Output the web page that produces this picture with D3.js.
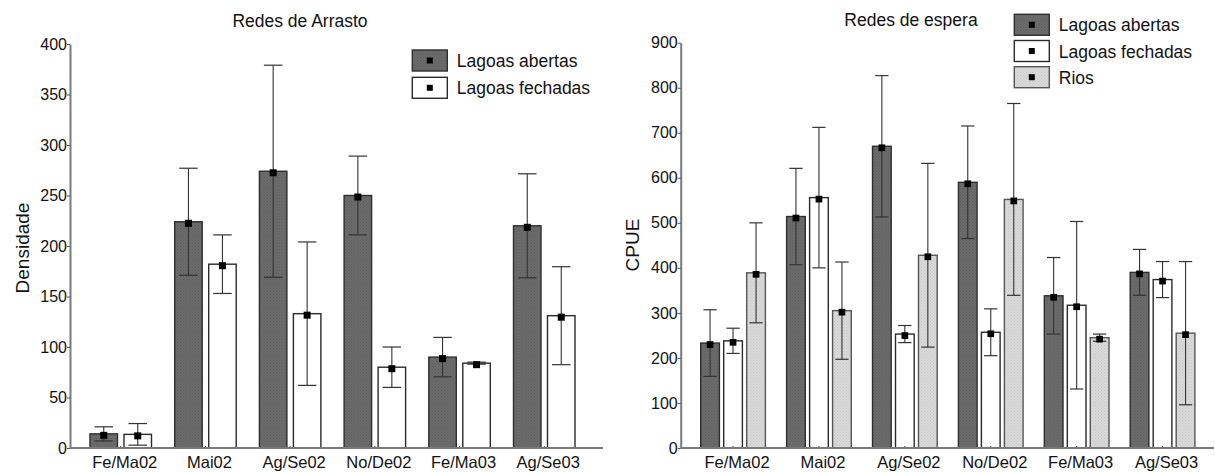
<!DOCTYPE html>
<html>
<head>
<meta charset="utf-8">
<script src="https://cdn.jsdelivr.net/npm/d3@7"></script>
<style>
  body { margin: 0; background: #fff; }
  text { font-family: "Liberation Sans", Arial, sans-serif; fill: #111; }
</style>
</head>
<body>
<svg id="chart" width="1215" height="472"></svg>
<script>
// Sampling periods shared by both panels
const periods = ["Fe/Ma02", "Mai02", "Ag/Se02", "No/De02", "Fe/Ma03", "Ag/Se03"];

// Redes de Arrasto — densidade (média ± erro)
const arrastoSeries = ["Lagoas abertas", "Lagoas fechadas"];
const arrastoAbertas = [14, 224, 274, 250, 90, 220];
const arrastoAbertasErr = [7, 53, 105, 39, 19.5, 51.5];
const arrastoFechadas = [13.5, 182, 133, 80, 84, 131];
const arrastoFechadasErr = [10.7, 29, 71, 20, 1, 48.5];
const arrastoTicks = [0, 50, 100, 150, 200, 250, 300, 350, 400];

// Redes de espera — CPUE (média ± erro)
const esperaSeries = ["Lagoas abertas", "Lagoas fechadas", "Rios"];
const esperaAbertas = [233, 514, 670, 590, 338, 390];
const esperaAbertasErr = [74, 107, 157, 125, 85, 51];
const esperaFechadas = [238, 556, 253, 257, 317, 374];
const esperaFechadasErr = [28, 156, 19, 52, 186, 40];
const esperaRios = [389, 305, 428, 552, 245, 255];
const esperaRiosErr = [111, 108, 204, 213, 8, 159];
const esperaTicks = [0, 100, 200, 300, 400, 500, 600, 700, 800, 900];

const svg = d3.select("#chart");

// Stippled fills for the shaded bars
const defs = svg.append("defs");
function stipple(id, base, dot) {
  const p = defs.append("pattern").attr("id", id)
    .attr("patternUnits", "userSpaceOnUse").attr("width", 3).attr("height", 3);
  p.append("rect").attr("width", 3).attr("height", 3).attr("fill", base);
  p.append("rect").attr("x", 0).attr("y", 0).attr("width", 1).attr("height", 1).attr("fill", dot);
  p.append("rect").attr("x", 1.5).attr("y", 1.5).attr("width", 1).attr("height", 1).attr("fill", dot);
}
stipple("dark", "#6c6c6c", "#5c5c5c");
stipple("light", "#dadada", "#c6c6c6");

const seriesStyle = {
  "Lagoas abertas": { fill: "url(#dark)", stroke: "#2e2e2e" },
  "Lagoas fechadas": { fill: "#ffffff", stroke: "#2a2a2a" },
  "Rios": { fill: "url(#light)", stroke: "#555555" }
};

function panel(cfg) {
  const g = svg.append("g");
  const y = d3.scaleLinear().domain([0, cfg.ticks[cfg.ticks.length - 1]]).range([448, cfg.yTop]);
  const x = d3.scaleBand().domain(periods).range(cfg.xBand)
    .paddingInner(cfg.pad).paddingOuter(cfg.pad / 2);
  const xs = d3.scaleBand().domain(cfg.series).range([0, x.bandwidth()])
    .paddingInner(cfg.subPad).paddingOuter(0);

  // Bars
  cfg.series.forEach((s, si) => {
    const vals = cfg.values[si], errs = cfg.errors[si];
    const data = periods.map((p, i) => ({ p, v: vals[i], e: errs[i] }));
    const st = seriesStyle[s];
    const bg = g.append("g");
    bg.selectAll("rect").data(data).join("rect")
      .attr("x", d => x(d.p) + xs(s))
      .attr("y", d => y(d.v))
      .attr("width", xs.bandwidth())
      .attr("height", d => y(0) - y(d.v))
      .attr("fill", st.fill)
      .attr("stroke", st.stroke)
      .attr("stroke-width", 1.4);

    // Error whiskers
    const cx = d => x(d.p) + xs(s) + xs.bandwidth() / 2;
    bg.selectAll("line.v").data(data).join("line").attr("class", "v")
      .attr("x1", cx).attr("x2", cx)
      .attr("y1", d => y(d.v + d.e)).attr("y2", d => y(d.v - d.e))
      .attr("stroke", "#333").attr("stroke-width", 1.1);
    ["hi", "lo"].forEach(k => {
      bg.selectAll("line." + k).data(data).join("line").attr("class", k)
        .attr("x1", d => cx(d) - cfg.cap / 2).attr("x2", d => cx(d) + cfg.cap / 2)
        .attr("y1", d => y(k === "hi" ? d.v + d.e : d.v - d.e))
        .attr("y2", d => y(k === "hi" ? d.v + d.e : d.v - d.e))
        .attr("stroke", "#333").attr("stroke-width", 1.2);
    });

    // Mean markers
    bg.selectAll("rect.m").data(data).join("rect").attr("class", "m")
      .attr("x", d => cx(d) - cfg.marker / 2)
      .attr("y", d => y(d.v) - cfg.marker / 2 + 1.5)
      .attr("width", cfg.marker).attr("height", cfg.marker)
      .attr("fill", "#000");
  });

  // Y axis
  const ya = g.append("g").attr("transform", `translate(${cfg.xAxis0},0)`)
    .call(d3.axisLeft(y).tickValues(cfg.ticks).tickSize(3).tickPadding(0).tickSizeOuter(0));
  ya.select(".domain").attr("stroke", "#7a7a7a").attr("stroke-width", 2);
  ya.selectAll(".tick line").attr("stroke", "#555");
  ya.selectAll(".tick text").attr("font-size", 16).attr("fill", "#111")
    .style("font-family", '"Liberation Sans", Arial, sans-serif');

  // X axis
  const xa = g.append("g").attr("transform", "translate(0,448)")
    .call(d3.axisBottom(x).tickSizeInner(-2).tickSizeOuter(0).tickPadding(8));
  xa.select(".domain").remove();
  xa.selectAll(".tick line").attr("stroke", "#333");
  xa.selectAll(".tick text").attr("font-size", 16.5).attr("dx", 4).attr("fill", "#111")
    .style("font-family", '"Liberation Sans", Arial, sans-serif');
  g.append("line").attr("x1", cfg.xAxis0).attr("x2", cfg.xAxis1)
    .attr("y1", 448).attr("y2", 448).attr("stroke", "#7a7a7a").attr("stroke-width", 2);

  // Title and axis label
  g.append("text").attr("x", cfg.titleX).attr("y", cfg.titleY)
    .attr("text-anchor", "middle").attr("font-size", 17.5).text(cfg.title);
  g.append("text").attr("transform", `translate(${cfg.yLabel[0]},${cfg.yLabel[1]}) rotate(-90)`)
    .attr("text-anchor", "middle").attr("font-size", 19).text(cfg.yTitle);

  // Legend
  const lg = g.append("g");
  cfg.series.forEach((s, i) => {
    const st = seriesStyle[s];
    const ly = cfg.legend[1] + i * cfg.legendStep;
    lg.append("rect").attr("x", cfg.legend[0]).attr("y", ly).attr("width", 35).attr("height", 21)
      .attr("fill", st.fill).attr("stroke", st.stroke).attr("stroke-width", 1.4);
    lg.append("rect").attr("x", cfg.legend[0] + 17.5 - 3).attr("y", ly + 10.5 - 3)
      .attr("width", 6).attr("height", 6).attr("fill", "#000");
    lg.append("text").attr("x", cfg.legend[0] + 44.5).attr("y", ly + 17)
      .attr("font-size", 17.5).text(s);
  });
}

panel({
  series: arrastoSeries,
  values: [arrastoAbertas, arrastoFechadas],
  errors: [arrastoAbertasErr, arrastoFechadasErr],
  ticks: arrastoTicks,
  yTop: 44,
  xBand: [78.4, 586.6], pad: 0.274, subPad: 0.191,
  xAxis0: 70, xAxis1: 603,
  cap: 18.5, marker: 7,
  title: "Redes de Arrasto", titleX: 300, titleY: 27,
  yTitle: "Densidade", yLabel: [29, 248],
  legend: [412.3, 50], legendStep: 27.3
});

panel({
  series: esperaSeries,
  values: [esperaAbertas, esperaFechadas, esperaRios],
  errors: [esperaAbertasErr, esperaFechadasErr, esperaRiosErr],
  ticks: esperaTicks,
  yTop: 42.7,
  xBand: [690.1, 1205.5], pad: 0.247, subPad: 0.187,
  xAxis0: 680.7, xAxis1: 1214,
  cap: 13.3, marker: 6.7,
  title: "Redes de espera", titleX: 911, titleY: 26,
  yTitle: "CPUE", yLabel: [639, 245],
  legend: [1014.3, 14.3], legendStep: 26.2
});
</script>
</body>
</html>
